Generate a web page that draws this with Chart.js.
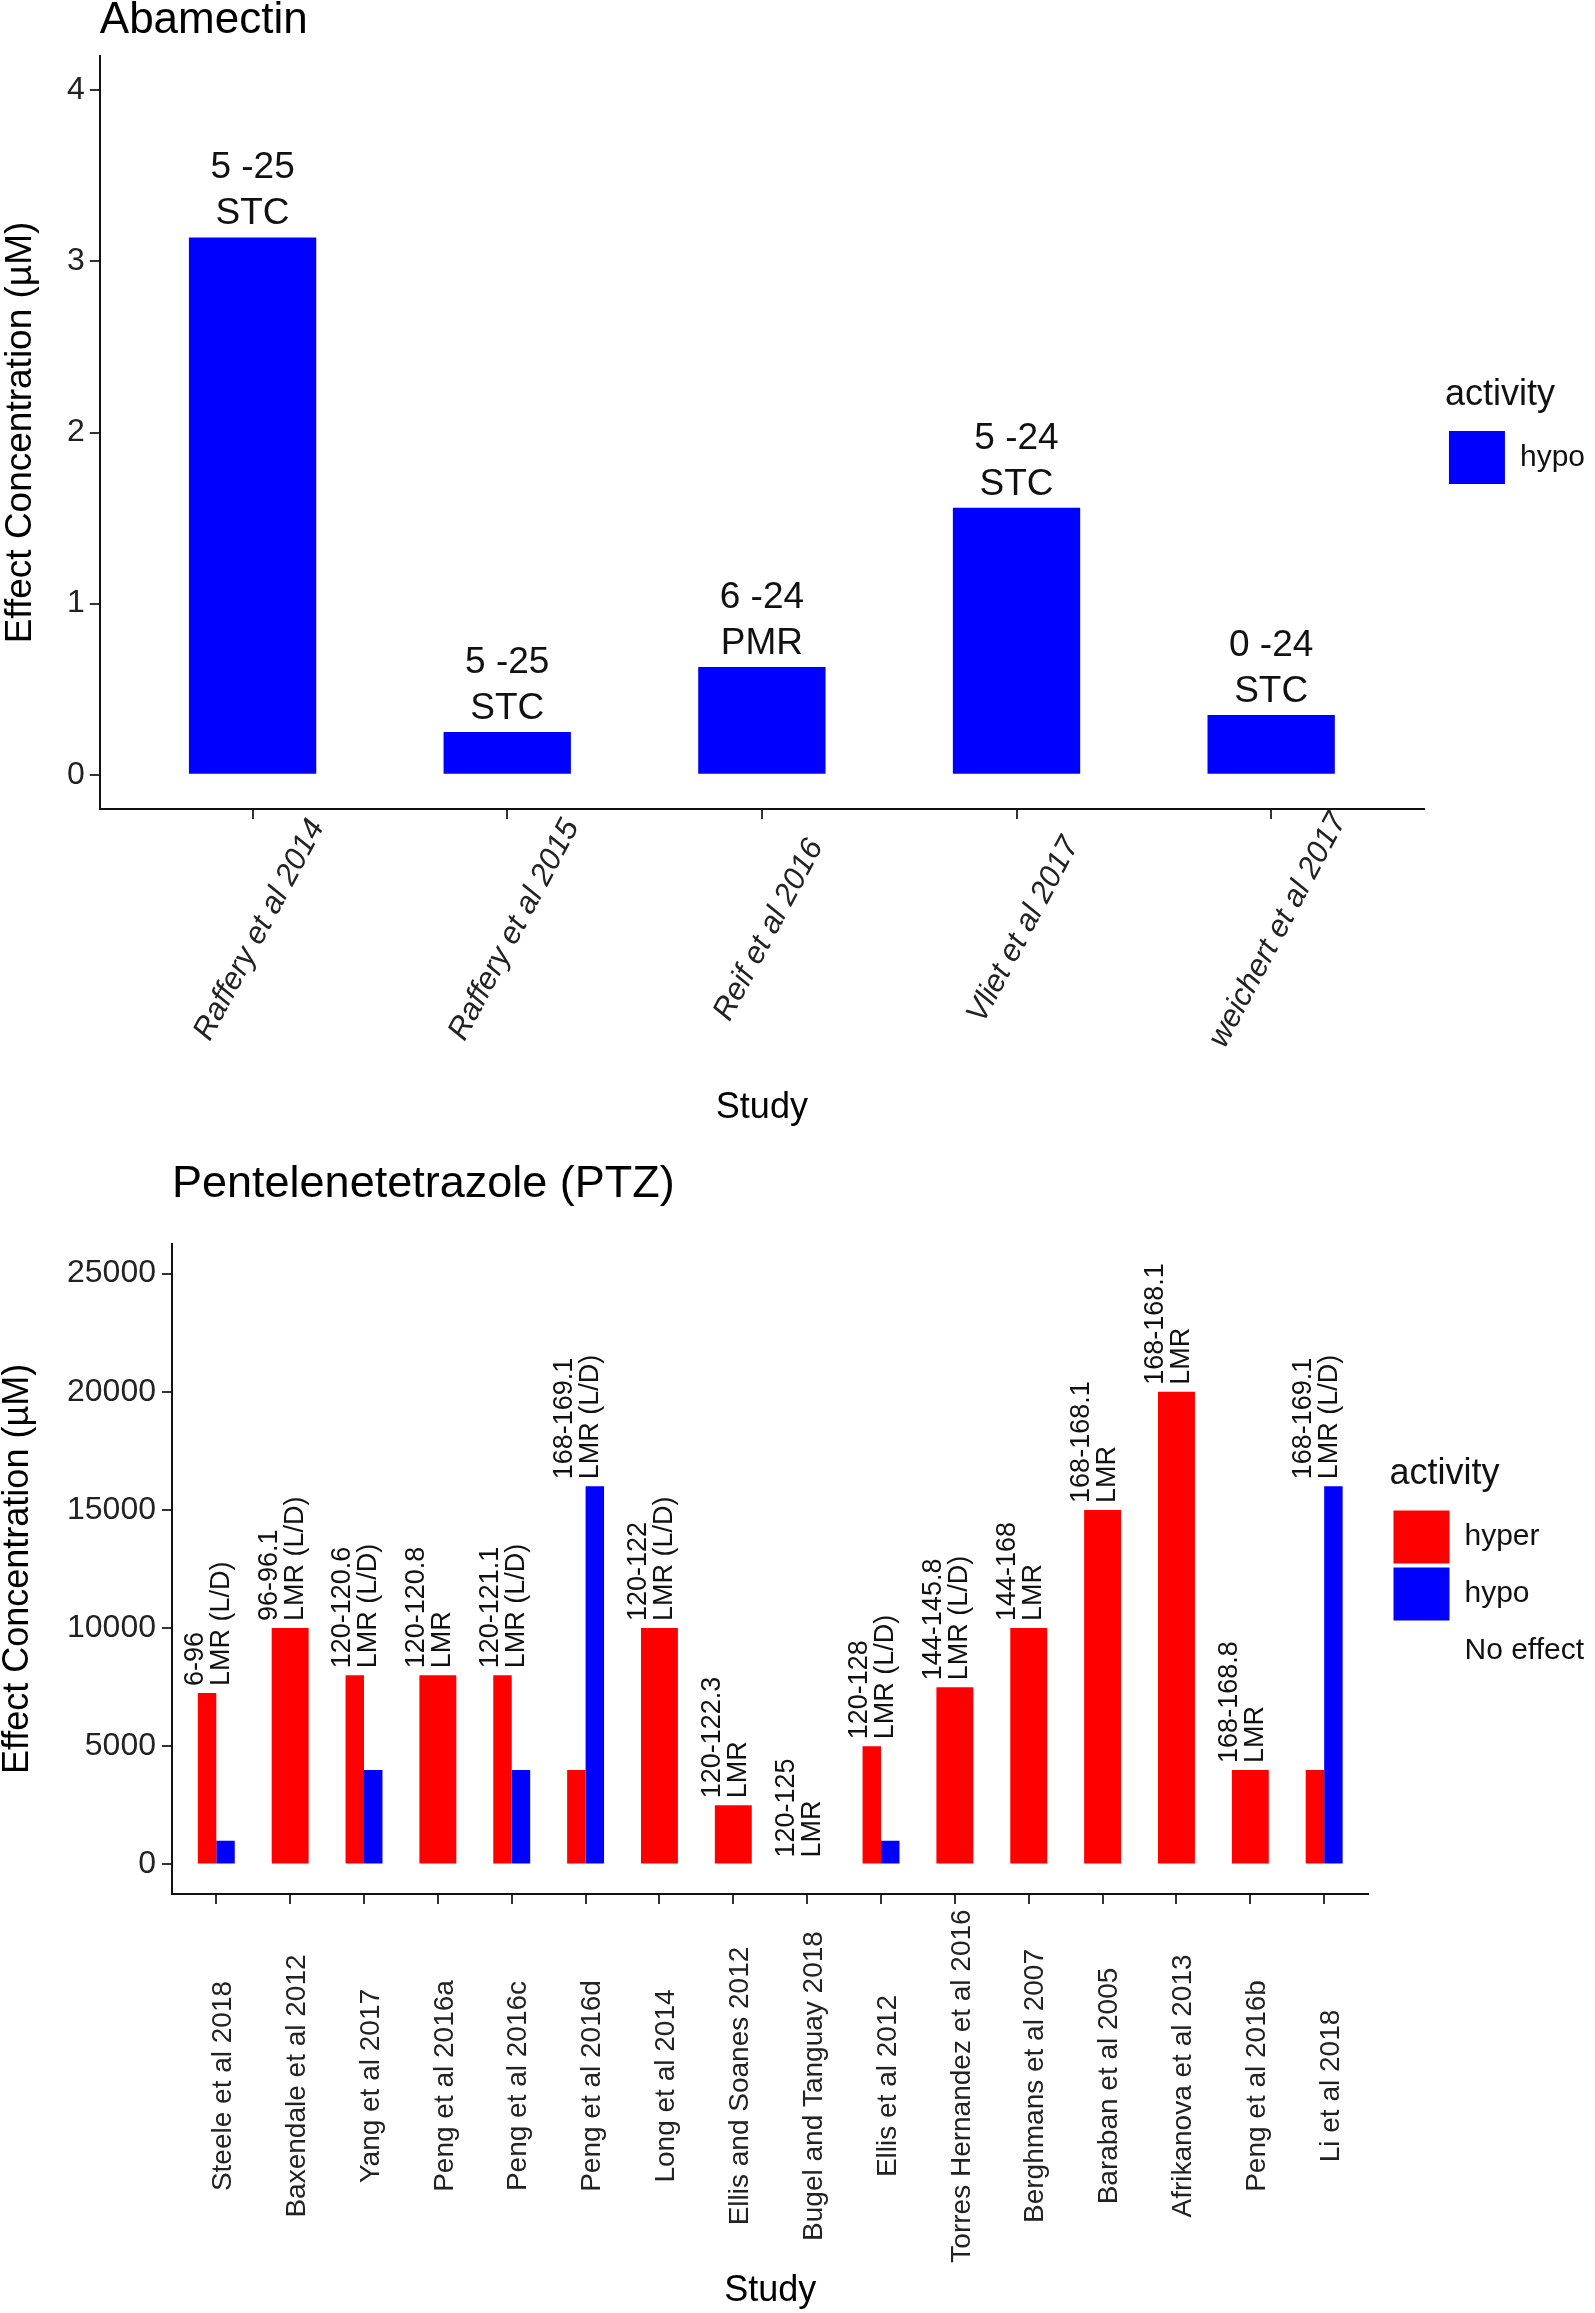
<!DOCTYPE html>
<html>
<head>
<meta charset="utf-8">
<script src="https://cdn.jsdelivr.net/npm/chart.js@4.4.1/dist/chart.umd.min.js"></script>
<style>
  body { margin: 0; background: #fff; }
  #page { position: relative; width: 1595px; height: 2313px; }
  canvas { position: absolute; left: 0; }
</style>
</head>
<body>
<div id="page">
  <canvas id="abamectin" width="1595" height="1140" style="top:0"></canvas>
  <canvas id="ptz" width="1595" height="1173" style="top:1140px"></canvas>
</div>
<script>
// ---- Abamectin panel ----
const abaStudies = ['Raffery et al 2014', 'Raffery et al 2015', 'Reif et al 2016', 'Vliet et al 2017', 'weichert et al 2017'];
const abaHypo = [3.14, 0.25, 0.63, 1.56, 0.35];
const abaRange = ['5 -25', '5 -25', '6 -24', '5 -24', '0 -24'];
const abaAssay = ['STC', 'STC', 'PMR', 'STC', 'STC'];
const abaTicks = [0, 1, 2, 3, 4];

// ---- PTZ panel ----
const ptzStudies = ['Steele et al 2018', 'Baxendale et al 2012', 'Yang et al 2017', 'Peng et al 2016a',
  'Peng et al 2016c', 'Peng et al 2016d', 'Long et al 2014', 'Ellis and Soanes 2012',
  'Bugel and Tanguay 2018', 'Ellis et al 2012', 'Torres Hernandez et al 2016', 'Berghmans et al 2007',
  'Baraban et al 2005', 'Afrikanova et al 2013', 'Peng et al 2016b', 'Li et al 2018'];
const ptzHyper = [7250, 10000, 8000, 8000, 8000, 4000, 10000, 2500, null, 5000, 7500, 10000, 15000, 20000, 4000, 4000];
const ptzHypo = [1000, null, 4000, null, 4000, 16000, null, null, null, 1000, null, null, null, null, null, 16000];
const ptzNoEffect = [null, null, null, null, null, null, null, null, 0, null, null, null, null, null, null, null];
const ptzRange = ['6-96', '96-96.1', '120-120.6', '120-120.8', '120-121.1', '168-169.1', '120-122', '120-122.3',
  '120-125', '120-128', '144-145.8', '144-168', '168-168.1', '168-168.1', '168-168.8', '168-169.1'];
const ptzAssay = ['LMR (L/D)', 'LMR (L/D)', 'LMR (L/D)', 'LMR', 'LMR (L/D)', 'LMR (L/D)', 'LMR (L/D)', 'LMR',
  'LMR', 'LMR (L/D)', 'LMR (L/D)', 'LMR', 'LMR', 'LMR', 'LMR', 'LMR (L/D)'];
const ptzTicks = [0, 5000, 10000, 15000, 20000, 25000];

const FONT = "'Liberation Sans', Arial, sans-serif";
Chart.defaults.font.family = FONT;
Chart.defaults.color = '#222';

const points = arr => arr.map((v, i) => ({x: i, y: v}));

// panel title + centred, rotated study names (drawn at the x scale's positions)
const panelText = {
  id: 'panelText',
  afterDraw(chart, args, opts) {
    const {ctx, chartArea} = chart;
    const xs = chart.scales.x;
    ctx.save();
    ctx.fillStyle = '#000';
    ctx.font = opts.titleSize + 'px ' + FONT;
    ctx.textAlign = 'left';
    ctx.textBaseline = 'alphabetic';
    ctx.fillText(opts.title, chartArea.left, opts.titleY);

    ctx.fillStyle = '#222';
    ctx.font = opts.catStyle + ' ' + opts.catSize + 'px ' + FONT;
    ctx.textAlign = 'center';
    ctx.textBaseline = 'middle';
    opts.cats.forEach((c, i) => {
      ctx.save();
      ctx.translate(xs.getPixelForValue(i) + opts.catDx, chartArea.bottom + opts.catDy);
      ctx.rotate(-opts.catAngle * Math.PI / 180);
      ctx.fillText(c, 0, 0);
      ctx.restore();
    });
    ctx.restore();
  }
};

// text above each group of bars
const barNotes = {
  id: 'barNotes',
  afterDatasetsDraw(chart, args, opts) {
    const {ctx} = chart;
    const xs = chart.scales.x, ys = chart.scales.y;
    ctx.save();
    ctx.fillStyle = '#111';
    ctx.font = opts.size + 'px ' + FONT;
    opts.lines[0].forEach((_, i) => {
      const vals = chart.data.datasets.map(d => d.data[i].y).filter(v => v !== null);
      const top = ys.getPixelForValue(Math.max(...vals));
      const cx = xs.getPixelForValue(i);
      if (opts.vertical) {
        ctx.save();
        ctx.translate(cx, top - opts.gap);
        ctx.rotate(-Math.PI / 2);
        ctx.textAlign = 'left';
        ctx.textBaseline = 'middle';
        opts.lines.forEach((line, k) => ctx.fillText(line[i], 0, opts.offsets[k]));
        ctx.restore();
      } else {
        ctx.textAlign = 'center';
        ctx.textBaseline = 'alphabetic';
        const n = opts.lines.length;
        opts.lines.forEach((line, k) => ctx.fillText(line[i], cx, top - opts.gap - (n - 1 - k) * opts.lineGap));
      }
    });
    ctx.restore();
  }
};

const axisGrid = {display: true, offset: false, drawOnChartArea: false, drawTicks: true, tickLength: 10, color: '#333', lineWidth: 2};
const axisBorder = {display: true, color: '#111', width: 2};
const spacer = {
  position: 'right', display: true,
  grid: {display: false, drawTicks: false}, ticks: {display: false}, border: {display: false},
  afterFit: s => { s.width = 21; }
};
const legendOpts = {
  position: 'right', align: 'center', fullSize: false,
  labels: {boxWidth: 56, boxHeight: 53, padding: 4, color: '#111', font: {size: 30}},
  title: {display: true, text: 'activity', color: '#111', font: {size: 36}, position: 'start', padding: {top: 0, bottom: 7}}
};

new Chart(document.getElementById('abamectin'), {
  type: 'bar',
  data: {
    datasets: [{label: 'hypo', data: points(abaHypo), backgroundColor: '#0000ff', borderWidth: 0}]
  },
  options: {
    responsive: false,
    devicePixelRatio: 1,
    animation: false,
    categoryPercentage: 0.5,
    barPercentage: 1,
    layout: {padding: {top: 56, right: 0, bottom: 0, left: 0}},
    scales: {
      x: {
        type: 'linear', offset: false, min: -0.6, max: abaStudies.length - 0.4,
        afterBuildTicks: s => { s.ticks = abaStudies.map((_, i) => ({value: i})); },
        ticks: {display: false},
        grid: axisGrid, border: axisBorder,
        title: {display: true, text: 'Study', color: '#000', font: {size: 36, lineHeight: 1}, padding: {top: 271, bottom: 14}}
      },
      y: {
        min: -0.2, max: 4.2,
        afterBuildTicks: s => { s.ticks = abaTicks.map(v => ({value: v})); },
        ticks: {font: {size: 32}, color: '#222', padding: 5, callback: v => String(v)},
        grid: axisGrid, border: axisBorder,
        title: {display: true, text: 'Effect Concentration (µM)', color: '#000', font: {size: 37, lineHeight: 1}, padding: {top: 2, bottom: 23}}
      },
      gap: spacer
    },
    plugins: {
      legend: legendOpts,
      tooltip: {enabled: false},
      panelText: {title: 'Abamectin', titleSize: 44, titleY: 33, cats: abaStudies, catStyle: 'italic', catSize: 31, catAngle: 62, catDx: 7, catDy: 121},
      barNotes: {lines: [abaRange, abaAssay], size: 37, gap: 13, lineGap: 46}
    }
  },
  plugins: [panelText, barNotes]
});

new Chart(document.getElementById('ptz'), {
  type: 'bar',
  data: {
    datasets: [
      {label: 'hyper', data: points(ptzHyper), backgroundColor: '#ff0000', borderWidth: 0},
      {label: 'hypo', data: points(ptzHypo), backgroundColor: '#0000ff', borderWidth: 0},
      {label: 'No effect', data: points(ptzNoEffect), backgroundColor: 'rgba(0,0,0,0)', borderWidth: 0}
    ]
  },
  options: {
    responsive: false,
    devicePixelRatio: 1,
    animation: false,
    categoryPercentage: 0.5,
    barPercentage: 1,
    datasets: {bar: {skipNull: true}},
    layout: {padding: {top: 104, right: 1, bottom: 0, left: 0}},
    scales: {
      x: {
        type: 'linear', offset: false, min: -0.6, max: ptzStudies.length - 0.4,
        afterBuildTicks: s => { s.ticks = ptzStudies.map((_, i) => ({value: i})); },
        ticks: {display: false},
        grid: axisGrid, border: axisBorder,
        title: {display: true, text: 'Study', color: '#000', font: {size: 36, lineHeight: 1}, padding: {top: 369, bottom: 4}}
      },
      y: {
        min: -1250, max: 26250,
        afterBuildTicks: s => { s.ticks = ptzTicks.map(v => ({value: v})); },
        ticks: {font: {size: 32}, color: '#222', padding: 6, callback: v => String(v)},
        grid: axisGrid, border: axisBorder,
        title: {display: true, text: 'Effect Concentration (µM)', color: '#000', font: {size: 36, lineHeight: 1}, padding: {top: 0, bottom: 25}}
      },
      gap: spacer
    },
    plugins: {
      legend: legendOpts,
      tooltip: {enabled: false},
      panelText: {title: 'Pentelenetetrazole (PTZ)', titleSize: 45, titleY: 57, cats: ptzStudies, catStyle: 'normal', catSize: 28, catAngle: 90, catDx: 7, catDy: 192},
      barNotes: {lines: [ptzRange, ptzAssay], size: 27, gap: 7, offsets: [-21, 5], vertical: true}
    }
  },
  plugins: [panelText, barNotes]
});
</script>
</body>
</html>
